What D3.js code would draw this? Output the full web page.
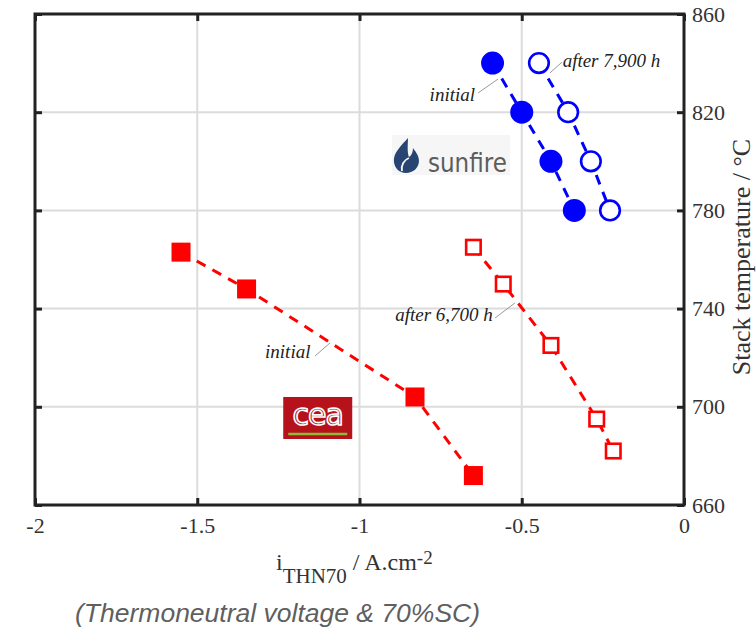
<!DOCTYPE html>
<html><head><meta charset="utf-8">
<script src="https://cdn.jsdelivr.net/npm/d3@7"></script>
<style>body{margin:0;background:#fff}svg{display:block}</style>
</head><body><svg id="c" width="756" height="633"></svg>
<script>
// ---- data ----
const xTicks = [-2, -1.5, -1, -0.5, 0];
const yTicks = [660, 700, 740, 780, 820, 860];
const xTickLabels = ["-2", "-1.5", "-1", "-0.5", "0"];
const sunfireInitialI = [-0.59, -0.50, -0.41, -0.338];
const sunfireInitialT = [840, 820, 800, 780];
const sunfireAfterI = [-0.447, -0.357, -0.287, -0.228];
const sunfireAfterT = [840, 820, 800, 780];
const ceaInitialI = [-1.55, -1.348, -0.829, -0.649];
const ceaInitialT = [763, 748, 704, 672];
const ceaAfterI = [-0.649, -0.557, -0.41, -0.269, -0.218];
const ceaAfterT = [765, 750, 725, 695, 682];

const svg = d3.select("#c");
const L = 35, R = 684, T = 14, B = 505;
const x = d3.scaleLinear().domain([-2, 0]).range([L, R]);
const y = d3.scaleLinear().domain([660, 860]).range([B, T]);

// grid
const g = svg.append("g");
g.selectAll(".gx").data(xTicks.slice(1, -1)).join("line")
  .attr("x1", d => x(d)).attr("x2", d => x(d)).attr("y1", T).attr("y2", B)
  .attr("stroke", "#dcdcdc").attr("stroke-width", 2);
g.selectAll(".gy").data(yTicks.slice(1, -1)).join("line")
  .attr("x1", L).attr("x2", R).attr("y1", d => y(d)).attr("y2", d => y(d))
  .attr("stroke", "#dcdcdc").attr("stroke-width", 2);

// axes (ticks inside)
const serif = "'Liberation Serif','Times New Roman',serif";
const axB = svg.append("g").attr("transform", `translate(0,${B})`)
  .call(d3.axisBottom(x).tickValues(xTicks).tickFormat((d, i) => xTickLabels[i]).tickSizeInner(-7).tickSizeOuter(0));
const axT = svg.append("g").attr("transform", `translate(0,${T})`)
  .call(d3.axisTop(x).tickValues(xTicks).tickFormat("").tickSizeInner(-7).tickSizeOuter(0));
const axL = svg.append("g").attr("transform", `translate(${L},0)`)
  .call(d3.axisLeft(y).tickValues(yTicks).tickFormat("").tickSizeInner(-7).tickSizeOuter(0));
const axR = svg.append("g").attr("transform", `translate(${R},0)`)
  .call(d3.axisRight(y).tickValues(yTicks).tickFormat(d3.format("d")).tickSizeInner(-7).tickSizeOuter(0).tickPadding(8));
[axB, axT, axL, axR].forEach(a => {
  a.select(".domain").remove();
  a.selectAll(".tick line").attr("stroke", "#222").attr("stroke-width", 3);
  a.selectAll("text").attr("font-family", serif).attr("font-size", 22).attr("fill", "#333");
});
axR.selectAll("text").attr("dy", "0.32em");
axB.selectAll("text").attr("y", 28).attr("dy", 0);

// frame
svg.append("rect").attr("x", L).attr("y", T).attr("width", R - L).attr("height", B - T)
  .attr("fill", "none").attr("stroke", "#222").attr("stroke-width", 3);

// logos
const sf = svg.append("g").attr("transform", `translate(${x(-0.9)},${y(810.7)})`);
sf.append("rect").attr("x", 0).attr("y", 0).attr("width", 118).attr("height", 40).attr("fill", "#f6f6f6");
sf.append("path").attr("d", "M16,3 C9,11 1,18 2,27 C3,34 8,38 14,38 C21,38 27,33 27,26 C27,20 23,16 21,13 C21,18 19,21 17,22 C15,17 16,9 16,3 Z")
  .attr("fill", "#274472");
sf.append("path").attr("d", "M10,36 C9,30 12,25 17,23").attr("fill", "none").attr("stroke", "#f6f6f6").attr("stroke-width", 1.8);
sf.append("text").attr("x", 36).attr("y", 37).text("sunfire")
  .attr("textLength", 79).attr("lengthAdjust", "spacingAndGlyphs")
  .attr("font-family", "'DejaVu Sans','Open Sans',sans-serif").attr("font-size", 27).attr("fill", "#5c5c5c");

const ce = svg.append("g").attr("transform", `translate(${x(-1.235)},${y(704)})`);
ce.append("rect").attr("width", 69).attr("height", 42).attr("fill", "#b5121b");
ce.append("text").attr("x", 34.5).attr("y", 28).attr("text-anchor", "middle").text("cea")
  .attr("font-family", "'DejaVu Sans',sans-serif").attr("font-size", 30).attr("fill", "none")
  .attr("stroke", "#fff").attr("stroke-width", 1.6).attr("letter-spacing", -1);
ce.append("line").attr("x1", 5).attr("x2", 64).attr("y1", 37).attr("y2", 37).attr("stroke", "#8dbb3a").attr("stroke-width", 2.5);

// series
const lineGen = d3.line().x(d => x(d[0])).y(d => y(d[1]));
function series(I, Tv, color, shape, filled) {
  const pts = I.map((v, i) => [v, Tv[i]]);
  svg.append("path").attr("d", lineGen(pts)).attr("fill", "none").attr("stroke", color)
    .attr("stroke-width", 3).attr("stroke-dasharray", "10,8");
  const grp = svg.append("g");
  if (shape === "circle") {
    grp.selectAll("circle").data(pts).join("circle")
      .attr("cx", d => x(d[0])).attr("cy", d => y(d[1])).attr("r", filled ? 11.5 : 9.8)
      .attr("fill", filled ? color : "#fff").attr("stroke", color).attr("stroke-width", filled ? 0 : 2.6);
  } else {
    const s = filled ? 19 : 14.5;
    grp.selectAll("rect").data(pts).join("rect")
      .attr("x", d => x(d[0]) - s / 2).attr("y", d => y(d[1]) - s / 2).attr("width", s).attr("height", s)
      .attr("fill", filled ? color : "#fff").attr("stroke", color).attr("stroke-width", filled ? 0 : 2.6);
  }
}
series(ceaInitialI, ceaInitialT, "#ff0000", "square", true);
series(ceaAfterI, ceaAfterT, "#ff0000", "square", false);
series(sunfireInitialI, sunfireInitialT, "#0000ff", "circle", true);
series(sunfireAfterI, sunfireAfterT, "#0000ff", "circle", false);

// annotations: [textX, textY, anchor, leader x1,y1,x2,y2] in data units
const annText = ["initial", "after 7,900 h", "initial", "after 6,700 h"];
const annPos = [[-0.644, 824.5, "end", -0.635, 827.8, -0.573, 833.5],
                [-0.374, 838.4, "start", -0.413, 836, -0.376, 840.4],
                [-1.291, 720, "start", -1.137, 720.7, -1.091, 726],
                [-0.589, 735, "end", -0.582, 736.2, -0.521, 742.3]];
annPos.forEach((p, i) => {
  svg.append("line").attr("x1", x(p[3])).attr("y1", y(p[4])).attr("x2", x(p[5])).attr("y2", y(p[6]))
    .attr("stroke", "#999").attr("stroke-width", 1);
  svg.append("text").attr("x", x(p[0])).attr("y", y(p[1])).attr("text-anchor", p[2]).text(annText[i])
    .attr("font-family", serif).attr("font-style", "italic").attr("font-size", 19).attr("fill", "#222");
});

// axis titles
const xt = svg.append("text").attr("x", 276).attr("y", 570)
  .attr("font-family", serif).attr("font-size", 24).attr("fill", "#333");
xt.append("tspan").text("i");
xt.append("tspan").attr("dy", 13).attr("font-size", 21).text("THN70");
xt.append("tspan").attr("dy", -13).text(" / A.cm");
xt.append("tspan").attr("dy", -6).attr("font-size", 19).text("-2");

svg.append("text").attr("transform", `translate(750,${y(761)}) rotate(-90)`).attr("text-anchor", "middle")
  .attr("font-family", serif).attr("font-size", 26).attr("fill", "#333").text("Stack temperature / °C");

svg.append("text").attr("x", 75).attr("y", 622)
  .attr("font-family", "'Liberation Sans',Arial,sans-serif").attr("font-style", "italic").attr("font-size", 26.5)
  .attr("fill", "#5f5f5f").text("(Thermoneutral voltage & 70%SC)");
</script></body></html>
